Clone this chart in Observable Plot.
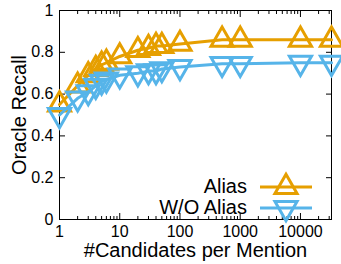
<!DOCTYPE html>
<html><head><meta charset="utf-8">
<script src="https://cdn.jsdelivr.net/npm/d3@7"></script>
<script src="https://cdn.jsdelivr.net/npm/@observablehq/plot@0.6"></script>
<style>
body{margin:0;background:#fff;}
#wrap{position:relative;width:341px;height:264px;font-family:"Liberation Sans",Arial,sans-serif;}
#legend{position:absolute;left:0;top:0;}
</style></head><body><div id="wrap"></div>
<script>
const candidates    = [1, 2, 3, 4, 5, 6, 10, 20, 30, 40, 50, 100, 500, 1000, 10000, 32768];
const aliasRecall   = [0.55, 0.64, 0.69, 0.72, 0.74, 0.75, 0.78, 0.81, 0.82, 0.83, 0.83, 0.84, 0.86, 0.86, 0.86, 0.86];
const woAliasRecall = [0.50, 0.58, 0.61, 0.64, 0.66, 0.67, 0.69, 0.70, 0.71, 0.71, 0.72, 0.73, 0.745, 0.745, 0.75, 0.75];
const seriesNames   = ["Alias", "W/O Alias"];
const seriesColors  = ["#E69F00", "#56B4E9"];
const xTicks        = [1, 10, 100, 1000, 10000];
const xTickLabels   = ["1", "10", "100", "1000", "10000"];
const yTicks        = [0, 0.2, 0.4, 0.6, 0.8, 1];
const yTickLabels   = ["0", "0.2", "0.4", "0.6", "0.8", "1"];
const xLabel = "#Candidates per Mention";
const yLabel = "Oracle Recall";

const minorTicks = [];
for (const d of [1, 10, 100, 1000, 10000]) for (let m = 2; m <= 9; m++) if (m * d <= 32768) minorTicks.push(m * d);

const alias = candidates.map((c, i) => ({x: c, y: aliasRecall[i]}));
const wo = candidates.map((c, i) => ({x: c, y: woAliasRecall[i]}));

const W = 341, H = 264;
const font = "'Liberation Sans', Arial, sans-serif";
const chart = Plot.plot({
  width: W, height: H,
  marginLeft: 59, marginRight: 10, marginTop: 10, marginBottom: 45,
  style: {fontFamily: font, fontSize: "16px", color: "#000", background: "#fff"},
  x: {type: "log", domain: [1, 32768]},
  y: {domain: [0, 1]},
  marks: [
    Plot.axisX({ticks: minorTicks, anchor: "bottom", tickSize: -3, tickFormat: () => "", label: null}),
    Plot.axisX({ticks: minorTicks, anchor: "top", tickSize: -3, tickFormat: () => "", label: null}),
    Plot.axisX({ticks: xTicks, anchor: "bottom", tickSize: -6, tickFormat: () => "", label: null}),
    Plot.axisX({ticks: xTicks, anchor: "top", tickSize: -6, tickFormat: () => "", label: null}),
    Plot.text(xTicks, {x: d => d, frameAnchor: "bottom", text: d => xTickLabels[xTicks.indexOf(d)], lineAnchor: "top", dy: 6, fontSize: 16, fill: "#000"}),
    Plot.axisY({ticks: yTicks, anchor: "left", tickSize: -6, tickFormat: () => "", label: null}),
    Plot.axisY({ticks: yTicks, anchor: "right", tickSize: -6, tickFormat: () => "", label: null}),
    Plot.axisY({ticks: yTicks, anchor: "left", tickSize: 0, tickPadding: 6, tickFormat: d => yTickLabels[yTicks.indexOf(d)], label: null, fontSize: 16}),
    Plot.frame({stroke: "#000", strokeWidth: 1}),
    Plot.line(alias, {x: "x", y: "y", stroke: seriesColors[0], strokeWidth: 3}),
    Plot.dot(alias, {x: "x", y: "y", symbol: "triangle", r: 8.2, stroke: seriesColors[0], strokeWidth: 3, fill: "none"}),
    Plot.line(wo, {x: "x", y: "y", stroke: seriesColors[1], strokeWidth: 3}),
    Plot.dot(wo, {x: "x", y: "y", symbol: "triangle", rotate: 180, r: 8.2, stroke: seriesColors[1], strokeWidth: 3, fill: "none"}),
    Plot.text([yLabel], {frameAnchor: "left", text: d => d, rotate: -90, dx: -40, fontSize: 20, fill: "#000", textAnchor: "middle", lineAnchor: "middle"}),
    Plot.text([xLabel], {frameAnchor: "bottom", text: d => d, dy: 31, fontSize: 20, fill: "#000", textAnchor: "middle", lineAnchor: "middle"})
  ]
});
const wrap = document.getElementById("wrap");
wrap.appendChild(chart);

// legend overlay
const ns = "http://www.w3.org/2000/svg";
const lg = document.createElementNS(ns, "svg");
lg.setAttribute("id", "legend");
lg.setAttribute("width", W); lg.setAttribute("height", H);
const rowsY = [187, 208];
seriesNames.forEach((name, i) => {
  const t = document.createElementNS(ns, "text");
  t.setAttribute("x", 247); t.setAttribute("y", rowsY[i] + 6);
  t.setAttribute("text-anchor", "end");
  t.setAttribute("font-family", font); t.setAttribute("font-size", 20);
  t.textContent = name; lg.appendChild(t);
  const l = document.createElementNS(ns, "line");
  l.setAttribute("x1", 260); l.setAttribute("x2", 312);
  l.setAttribute("y1", rowsY[i]); l.setAttribute("y2", rowsY[i]);
  l.setAttribute("stroke", seriesColors[i]); l.setAttribute("stroke-width", 3);
  lg.appendChild(l);
  const p = document.createElementNS(ns, "path");
  p.setAttribute("d", d3.symbol(d3.symbolTriangle, Math.PI * 8.2 * 8.2)());
  p.setAttribute("transform", `translate(286,${rowsY[i]}) rotate(${i ? 180 : 0})`);
  p.setAttribute("fill", "none"); p.setAttribute("stroke", seriesColors[i]); p.setAttribute("stroke-width", 3);
  lg.appendChild(p);
});
wrap.appendChild(lg);
</script></body></html>
